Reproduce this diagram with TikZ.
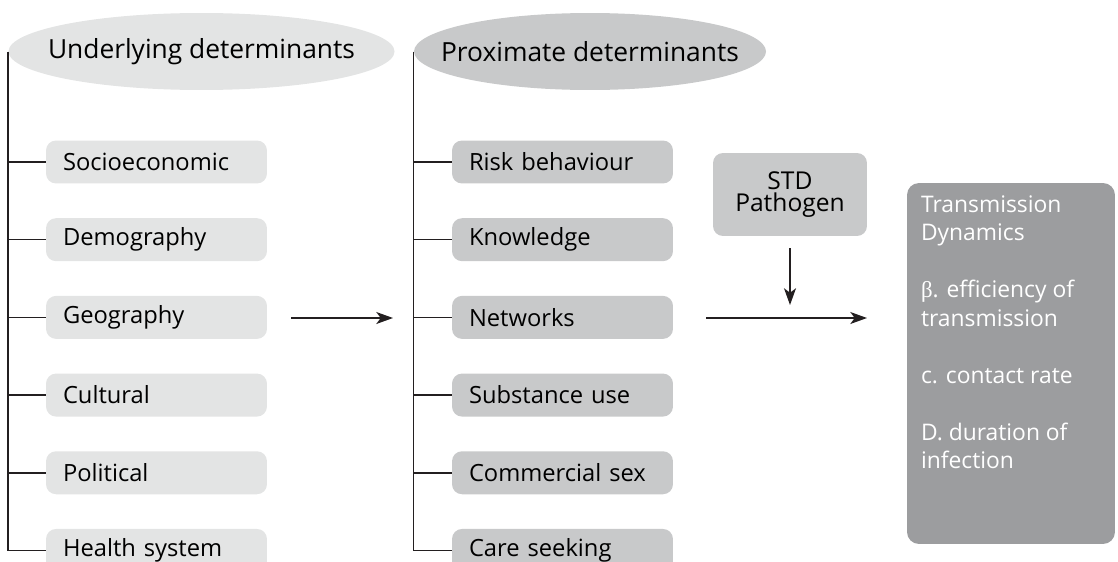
\documentclass[tikz,border=0pt]{standalone}
\usepackage{fontspec}
\setmainfont{Open Sans}
\newfontfamily\greekfont{Liberation Serif}
\usepackage{tikz}
\usetikzlibrary{arrows.meta}
\usetikzlibrary{positioning}
\usetikzlibrary{shapes.geometric}

\definecolor{paleGrey}{HTML}{E3E4E4}
\definecolor{midGrey}{HTML}{C8C9CA}
\definecolor{darkGrey}{HTML}{9C9D9F}
\definecolor{inkGrey}{HTML}{231F20}

\begin{document}
\begin{tikzpicture}[
    x=0.02cm, y=-0.02cm,
    node distance=0.68cm,
    ellip/.style={
        ellipse, inner ysep=0pt,
        minimum height=1.54cm,
        font=\fontsize{15}{18}\selectfont
    },
    factor/.style={
        rounded corners=0.2cm,
        minimum height=0.86cm,
        text width=3.74cm, inner xsep=0.34cm,
        align=left,
        font=\fontsize{13.5}{16}\selectfont
    },
    link/.style={draw=inkGrey, line width=0.85pt},
    flow/.style={link, -{Stealth[length=9.5pt,width=6.8pt,inset=2.5pt]}}
]
\useasboundingbox (0,0) rectangle (1118,561);

% headings
\node[ellip, fill=paleGrey, inner xsep=-0.34cm] (under) at (201.5,51.5) {Underlying determinants};
\node[ellip, fill=midGrey, inner xsep=-0.49cm] (prox) at (590,51.5) {Proximate determinants};

% underlying factors
\node[factor, fill=paleGrey] (socio) at (156.5,162) {Socioeconomic};
\node[factor, fill=paleGrey, below=of socio] (demog) {Demography};
\node[factor, fill=paleGrey, below=of demog] (geog) {Geography};
\node[factor, fill=paleGrey, below=of geog] (cultural) {Cultural};
\node[factor, fill=paleGrey, below=of cultural] (political) {Political};
\node[factor, fill=paleGrey, below=of political] (health) {Health system};

% proximate factors
\node[factor, fill=midGrey] (risk) at (562.5,162) {Risk behaviour};
\node[factor, fill=midGrey, below=of risk] (knowledge) {Knowledge};
\node[factor, fill=midGrey, below=of knowledge] (networks) {Networks};
\node[factor, fill=midGrey, below=of networks] (substance) {Substance use};
\node[factor, fill=midGrey, below=of substance] (commercial) {Commercial sex};
\node[factor, fill=midGrey, below=of commercial] (care) {Care seeking};

% pathogen and outcome
\node[fill=midGrey, rounded corners=0.2cm, minimum width=3.08cm, minimum height=1.66cm,
      align=center, font=\fontsize{14}{12.5}\selectfont] (std) at (790,194.5) {STD\\Pathogen};
\node[fill=darkGrey, rounded corners=0.24cm, text=white, inner xsep=0.28cm, inner ysep=0.25cm,
      font=\fontsize{13}{16.2}\selectfont] (trans) at (1011,363.5)
      {\parbox[c][6.72cm][t]{3.6cm}{\raggedright
       Transmission\\Dynamics\\[16.2pt]
       {\greekfont β}. efficiency of\\transmission\\[16.2pt]
       c. contact rate\\[16.2pt]
       D. duration of\\infection}};

% trees
\draw[link] (under.west) |- (health.west);
\draw[link] (under.west |- socio.west) -- (socio.west);
\draw[link] (under.west |- demog.west) -- (demog.west);
\draw[link] (under.west |- geog.west) -- (geog.west);
\draw[link] (under.west |- cultural.west) -- (cultural.west);
\draw[link] (under.west |- political.west) -- (political.west);

\draw[link] (prox.west) |- (care.west);
\draw[link] (prox.west |- risk.west) -- (risk.west);
\draw[link] (prox.west |- knowledge.west) -- (knowledge.west);
\draw[link] (prox.west |- networks.west) -- (networks.west);
\draw[link] (prox.west |- substance.west) -- (substance.west);
\draw[link] (prox.west |- commercial.west) -- (commercial.west);

% flows
\coordinate (geogTip) at (393,318);
\coordinate (join) at (790,318);
\coordinate (transTip) at (867,318);
\draw[flow] ([xshift=0.48cm]geog.east |- geogTip) -- (geogTip);
\draw[flow] ([xshift=0.66cm]networks.east |- join) -- (transTip);
\draw[flow] ([yshift=-0.24cm]std.south) -- ([yshift=0.26cm]join);
\end{tikzpicture}
\end{document}
